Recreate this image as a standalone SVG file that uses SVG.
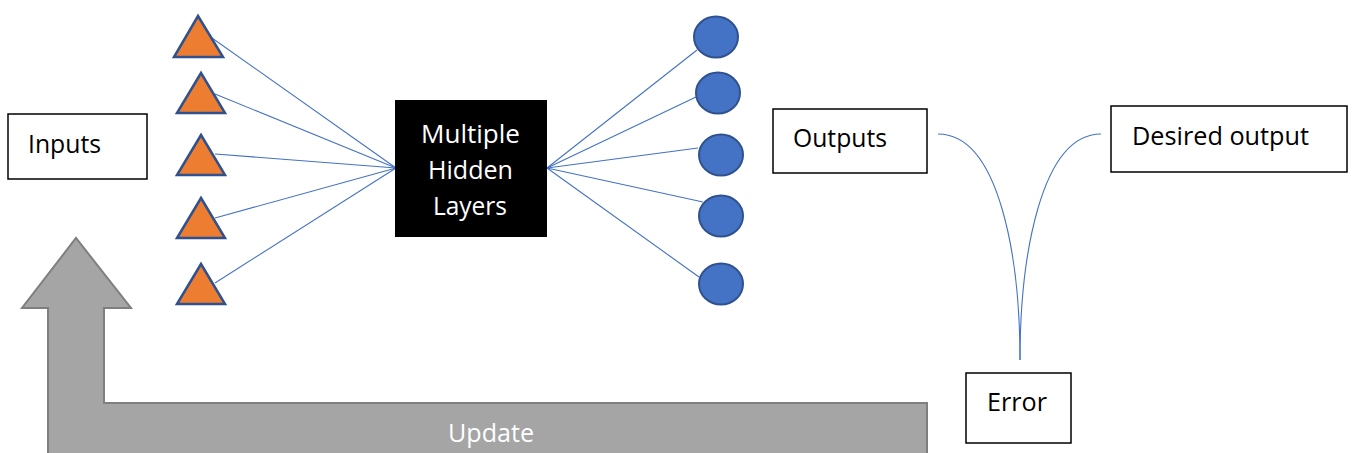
<svg xmlns="http://www.w3.org/2000/svg" width="1355" height="453" viewBox="0 0 1355 453">
  <defs>
    <style>
      .box { fill: #FFFFFF; stroke: #000000; stroke-width: 1.5; }
      .lbl { font-family: "Open Sans", "Liberation Sans", sans-serif; font-size: 25px; fill: #000000; }
      .wlbl { font-family: "Open Sans", "Liberation Sans", sans-serif; font-size: 25px; fill: #FFFFFF; }
      .tri { fill: #ED7D31; stroke: #2F528F; stroke-width: 2.5; stroke-linejoin: miter; }
      .neuron { fill: #4472C4; stroke: #2F528F; stroke-width: 2; }
      .link { fill: none; stroke: #4472C4; stroke-width: 1.1; }
      .feedback { fill: #A5A5A5; stroke: #7F7F7F; stroke-width: 2; }
    </style>
  </defs>

  <!-- update feedback arrow -->
  <g id="update">
    <path class="feedback" d="M48,460 L48,308 L22,308 L76,238 L131,308 L104,308 L104,403 L927,403 L927,460 Z"/>
    <text class="wlbl" x="448" y="442" textLength="86" lengthAdjust="spacingAndGlyphs">Update</text>
  </g>

  <!-- connectors -->
  <g id="connectors">
    <line class="link" x1="212" y1="38" x2="396" y2="168"/>
    <line class="link" x1="215" y1="94" x2="396" y2="168"/>
    <line class="link" x1="215" y1="154" x2="396" y2="168"/>
    <line class="link" x1="215" y1="218" x2="396" y2="168"/>
    <line class="link" x1="215" y1="283" x2="396" y2="168"/>
    <line class="link" x1="547" y1="168" x2="697" y2="50"/>
    <line class="link" x1="547" y1="168" x2="696" y2="97"/>
    <line class="link" x1="547" y1="168" x2="698" y2="148"/>
    <line class="link" x1="547" y1="168" x2="703" y2="202"/>
    <line class="link" x1="547" y1="168" x2="699" y2="277"/>
    <path class="link" d="M938,134 C1000,134 1020,260 1020,360"/>
    <path class="link" d="M1101,134 C1040,134 1020,260 1020,360"/>
  </g>

  <!-- input node -->
  <g id="inputs">
    <rect class="box" x="8" y="114" width="139" height="65"/>
    <text class="lbl" x="28" y="153" textLength="73" lengthAdjust="spacingAndGlyphs">Inputs</text>
  </g>

  <!-- input layer -->
  <g id="input-layer">
    <polygon class="tri" points="198,16 223,57 174,57"/>
    <polygon class="tri" points="201,73 225,113 177,113"/>
    <polygon class="tri" points="201,135 225,175 177,175"/>
    <polygon class="tri" points="201,198 225,238 177,238"/>
    <polygon class="tri" points="201,264 225,304 177,304"/>
  </g>

  <!-- hidden layers -->
  <g id="hidden">
    <rect x="395" y="100" width="152" height="137" fill="#000000"/>
    <text class="wlbl" x="421" y="143" textLength="99" lengthAdjust="spacingAndGlyphs">Multiple</text>
    <text class="wlbl" x="428" y="179" textLength="85" lengthAdjust="spacingAndGlyphs">Hidden</text>
    <text class="wlbl" x="433" y="215" textLength="74" lengthAdjust="spacingAndGlyphs">Layers</text>
  </g>

  <!-- output layer -->
  <g id="output-layer">
    <ellipse class="neuron" cx="716" cy="37" rx="22" ry="20.5"/>
    <ellipse class="neuron" cx="718" cy="93" rx="22" ry="20.5"/>
    <ellipse class="neuron" cx="721" cy="155" rx="22" ry="20.5"/>
    <ellipse class="neuron" cx="721" cy="216" rx="22" ry="20.5"/>
    <ellipse class="neuron" cx="721" cy="284" rx="22" ry="20.5"/>
  </g>

  <!-- outputs -->
  <g id="outputs">
    <rect class="box" x="773" y="109" width="154" height="64"/>
    <text class="lbl" x="793" y="147" textLength="94" lengthAdjust="spacingAndGlyphs">Outputs</text>
  </g>

  <!-- desired output -->
  <g id="desired">
    <rect class="box" x="1111" y="106" width="236" height="66"/>
    <text class="lbl" x="1132" y="145" textLength="177" lengthAdjust="spacingAndGlyphs">Desired output</text>
  </g>

  <!-- error -->
  <g id="error">
    <rect class="box" x="966" y="373" width="105" height="70"/>
    <text class="lbl" x="987" y="411" textLength="60" lengthAdjust="spacingAndGlyphs">Error</text>
  </g>
</svg>
